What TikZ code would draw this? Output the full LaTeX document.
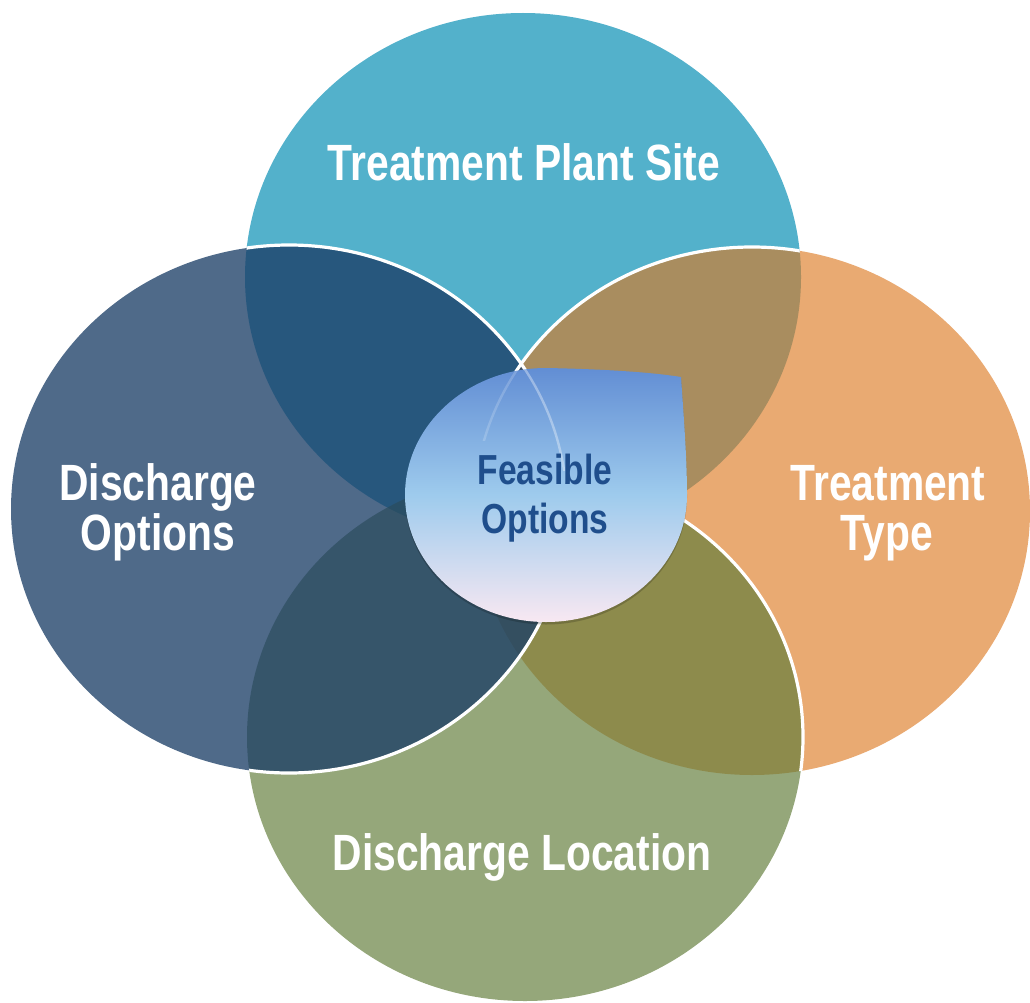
\documentclass[tikz,border=0pt]{standalone}
\usepackage{fontspec}
\newfontfamily\lab[FakeStretch=0.8]{Liberation Sans}
\definecolor{teal1}{RGB}{83,177,203}
\definecolor{orng}{RGB}{220,120,32}
\definecolor{grn}{RGB}{99,125,59}
\definecolor{blu}{RGB}{26,61,102}
\definecolor{ftext}{RGB}{31,78,140}
\definecolor{ctop}{RGB}{98,142,212}
\definecolor{cmid}{RGB}{158,203,237}
\definecolor{cbot}{RGB}{248,232,242}
\begin{document}
\begin{tikzpicture}[x=1pt,y=-1pt,
  er/.style={x radius=278, y radius=264},
  lbl/.style={text=white, font=\lab\bfseries\fontsize{51}{51}\selectfont, anchor=base, inner sep=0pt},
  clbl/.style={text=ftext, font=\lab\bfseries\fontsize{42}{42}\selectfont, anchor=base, inner sep=0pt},
  rim/.style={draw=white, line width=3.2},
  faint/.style={draw=white, line width=2.4},
  drop/.style={insert path={(405,495) arc[start angle=180, end angle=270, x radius=141, y radius=127]
     .. controls (600,369) and (650,372) .. (681,377)
     .. controls (684,420) and (687,460) .. (687,495)
     arc[start angle=0, end angle=180, x radius=141, y radius=127] -- cycle}}]
\useasboundingbox (0,0) rectangle (1030,1003);
\coordinate (T) at (523,277);
\coordinate (L) at (289,509);
\coordinate (R) at (752,511);
\coordinate (B) at (525,737);
% circles
\fill[teal1] (T) ellipse[er];
\fill[orng, fill opacity=0.63] (R) ellipse[er];
\fill[grn, fill opacity=0.68] (B) ellipse[er];
\fill[blu, fill opacity=0.77] (L) ellipse[er];
% white rims
\begin{scope}
  \clip (T) ellipse[er];
  \draw[rim] (L) ellipse[er];
  \draw[rim] (R) ellipse[er];
\end{scope}
\begin{scope}
  \clip (B) ellipse[er];
  \draw[rim] (L) ellipse[er];
\end{scope}
\begin{scope}
  \clip (R) ellipse[er];
  \draw[rim] (B) ellipse[er];
\end{scope}
% centre drop
\fill[black, opacity=0.18, shift={(0,2.5)}, drop];
\shade[top color=ctop, bottom color=cbot, middle color=cmid, drop];
\begin{scope}
  \clip[drop];
  \clip (400,360) rectangle (700,470);
  \draw[faint, opacity=0.35] (L) ellipse[er];
  \clip (400,360) rectangle (700,440);
  \draw[faint, opacity=0.18] (R) ellipse[er];
\end{scope}
% labels
\node[lbl] (tps) at (524,181) {Treatment Plant Site};
\node[lbl] (do1) at (158,500) {Discharge};
\node[lbl] (do2) at (158,550) {Options};
\node[lbl] (tt1) at (888,500) {Treatment};
\node[lbl] (tt2) at (887,550) {Type};
\node[lbl] (dl) at (522,870) {Discharge Location};
\node[clbl] (fo1) at (545,484) {Feasible};
\node[clbl] (fo2) at (545,533) {Options};
\end{tikzpicture}
\end{document}
